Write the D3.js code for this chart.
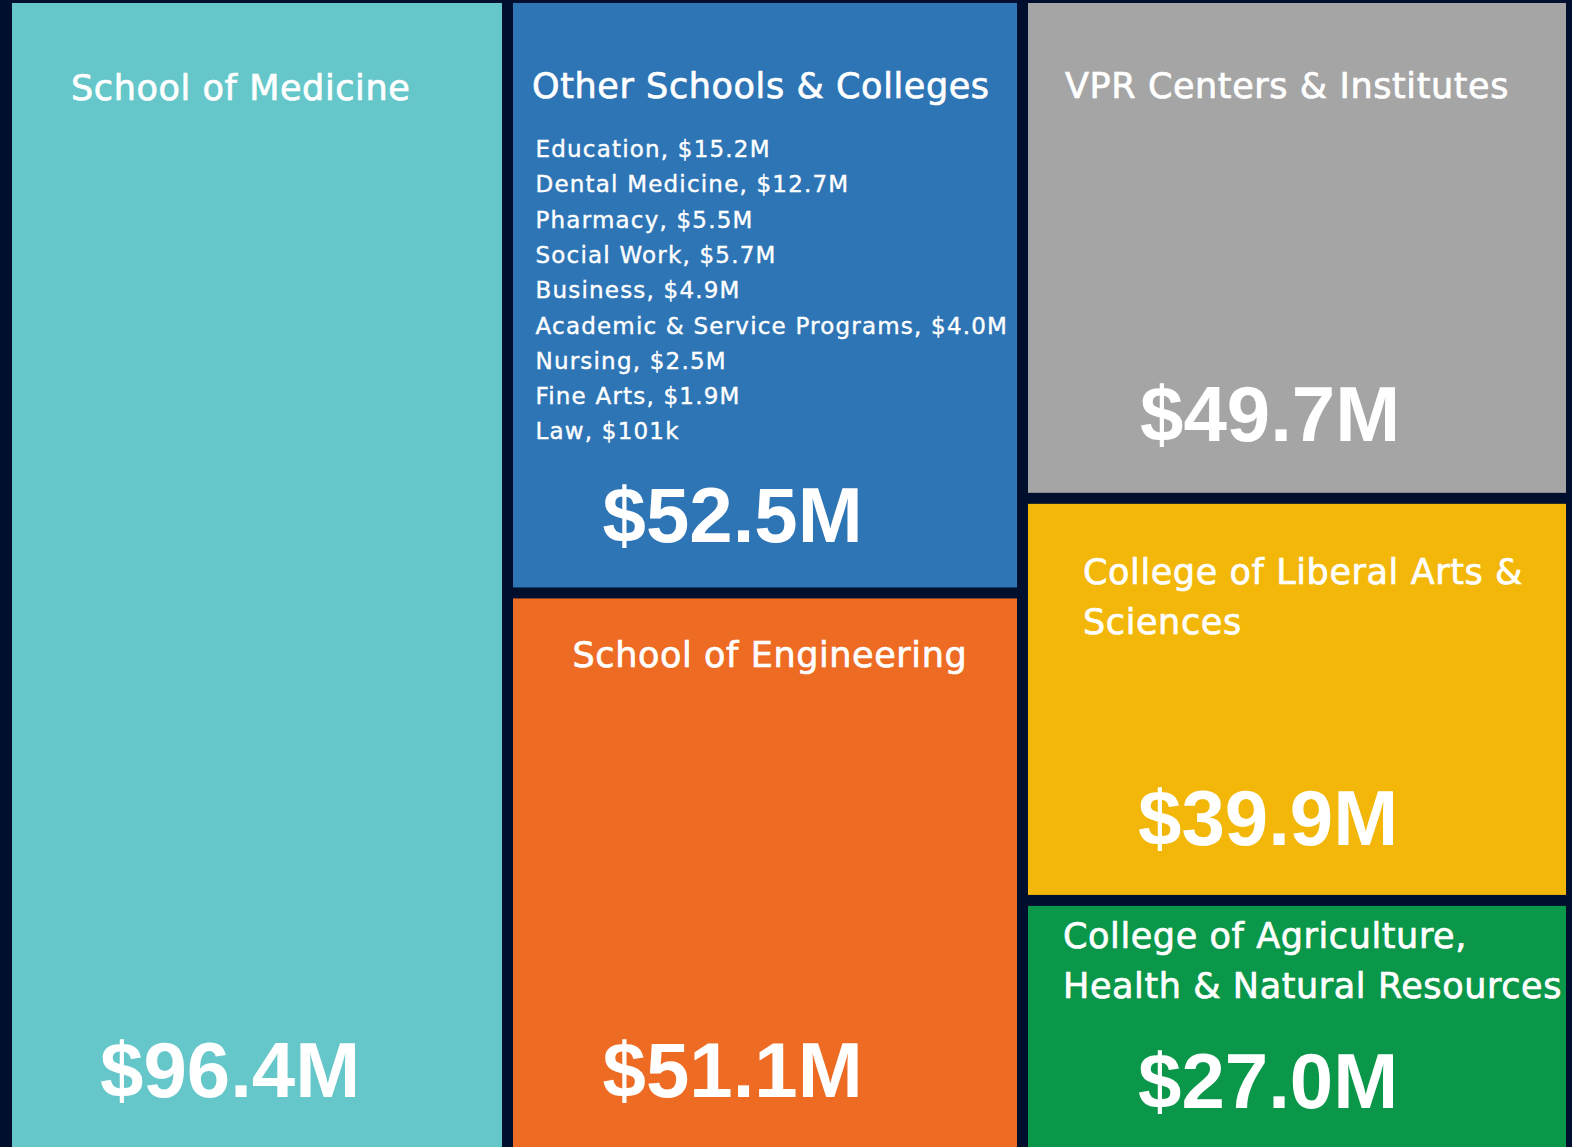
<!DOCTYPE html>
<html>
<head>
<meta charset="utf-8">
<script src="https://cdn.jsdelivr.net/npm/d3@7"></script>
<style>
  html, body { margin: 0; padding: 0; background: #010f2f; }
  svg { display: block; }
  .title { font-family: "DejaVu Sans", sans-serif; font-size: 35px; fill: #fff; letter-spacing: 0.6px;
           stroke: #fff; stroke-width: 0.7px; paint-order: stroke; }
  .sub { font-family: "DejaVu Sans", sans-serif; font-size: 23px; fill: #fff; letter-spacing: 1.2px;
         stroke: #fff; stroke-width: 0.4px; paint-order: stroke; }
  .value { font-family: "Liberation Sans", Arial, sans-serif; font-weight: bold; font-size: 78px; fill: #fff; }
</style>
</head>
<body>
<svg id="chart"></svg>
<script>
// ---------------- data ----------------
const categories = [
  "School of Medicine",
  "Other Schools & Colleges",
  "School of Engineering",
  "VPR Centers & Institutes",
  "College of Liberal Arts & Sciences",
  "College of Agriculture, Health & Natural Resources"
];
const values = [96.4, 52.5, 51.1, 49.7, 39.9, 27.0];           // $M
const columnOf = [0, 1, 1, 2, 2, 2];                             // treemap column of each category
const subUnits = ["Education", "Dental Medicine", "Pharmacy", "Social Work", "Business",
                  "Academic & Service Programs", "Nursing", "Fine Arts", "Law"];
const subValues = [15.2, 12.7, 5.5, 5.7, 4.9, 4.0, 2.5, 1.9, 0.101]; // $M (part of "Other Schools & Colleges")

// ---------------- styles / layout ----------------
const palette = ["#65c7c9", "#2e75b6", "#ed6b23", "#a5a5a5", "#f2b708", "#0a9749"];
const titleLines = [
  ["School of Medicine"],
  ["Other Schools & Colleges"],
  ["School of Engineering"],
  ["VPR Centers & Institutes"],
  ["College of Liberal Arts &", "Sciences"],
  ["College of Agriculture,", "Health & Natural Resources"]
];
// label offsets from the top-left of each cell
const titleOffset = [[59, 97], [19, 95], [59.5, 69], [37, 95], [55, 80], [35, 42]];
const valueOffset = [[88, 1094], [89.5, 539], [89.5, 499], [112, 438], [110, 341], [110, 202]];
const subOffset = [22.5, 154], subStep = 35.3, titleStep = 50;
const columnShare = [501, 515, 549];

const W = 1572, H = 1147;
const margin = { left: 12, top: 3 };
const innerW = 1554, innerH = 1164;

const fmt = v => v >= 1 ? `$${v.toFixed(1)}M` : `$${Math.round(v * 1000)}k`;

const svg = d3.select("#chart").attr("width", W).attr("height", H);
svg.append("rect").attr("width", W).attr("height", H).attr("fill", "#010f2f");

const nCols = d3.max(columnOf) + 1;
const tree = {
  children: d3.range(nCols).map(c => ({
    children: categories.map((name, i) => ({ i, name, value: values[i] })).filter(d => columnOf[d.i] === c)
  }))
};
const root = d3.hierarchy(tree).sum(d => d.value || 0);

function tile(parent, x0, y0, x1, y1) {
  if (parent.depth === 0) {
    const x = d3.scaleLinear().domain([0, d3.sum(columnShare)]).range([x0, x1]);
    let acc = 0;
    parent.children.forEach((c, k) => {
      c.x0 = x(acc); acc += columnShare[k]; c.x1 = x(acc);
      c.y0 = y0; c.y1 = y1;
    });
  } else {
    d3.treemapSlice(parent, x0, y0, x1, y1);
  }
}

d3.treemap().size([innerW, innerH]).paddingInner(11).tile(tile)(root);

const g = svg.append("g").attr("transform", `translate(${margin.left},${margin.top})`);
const leaves = g.selectAll("g.cell").data(root.leaves()).join("g")
  .attr("class", "cell")
  .attr("transform", d => `translate(${d.x0},${d.y0})`);

leaves.append("rect")
  .attr("width", d => d.x1 - d.x0)
  .attr("height", d => d.y1 - d.y0)
  .attr("fill", d => palette[d.data.i]);

leaves.each(function (d) {
  const i = d.data.i, sel = d3.select(this);
  const t = sel.append("text").attr("class", "title");
  titleLines[i].forEach((line, k) => {
    t.append("tspan").attr("x", titleOffset[i][0]).attr("y", titleOffset[i][1] + k * titleStep).text(line);
  });
  sel.append("text").attr("class", "value")
    .attr("x", valueOffset[i][0]).attr("y", valueOffset[i][1])
    .text(fmt(values[i]));
  if (i === 1) {
    const st = sel.append("text").attr("class", "sub");
    subUnits.forEach((u, k) => {
      st.append("tspan").attr("x", subOffset[0]).attr("y", subOffset[1] + k * subStep)
        .text(`${u}, ${fmt(subValues[k])}`);
    });
  }
});
</script>
</body>
</html>
